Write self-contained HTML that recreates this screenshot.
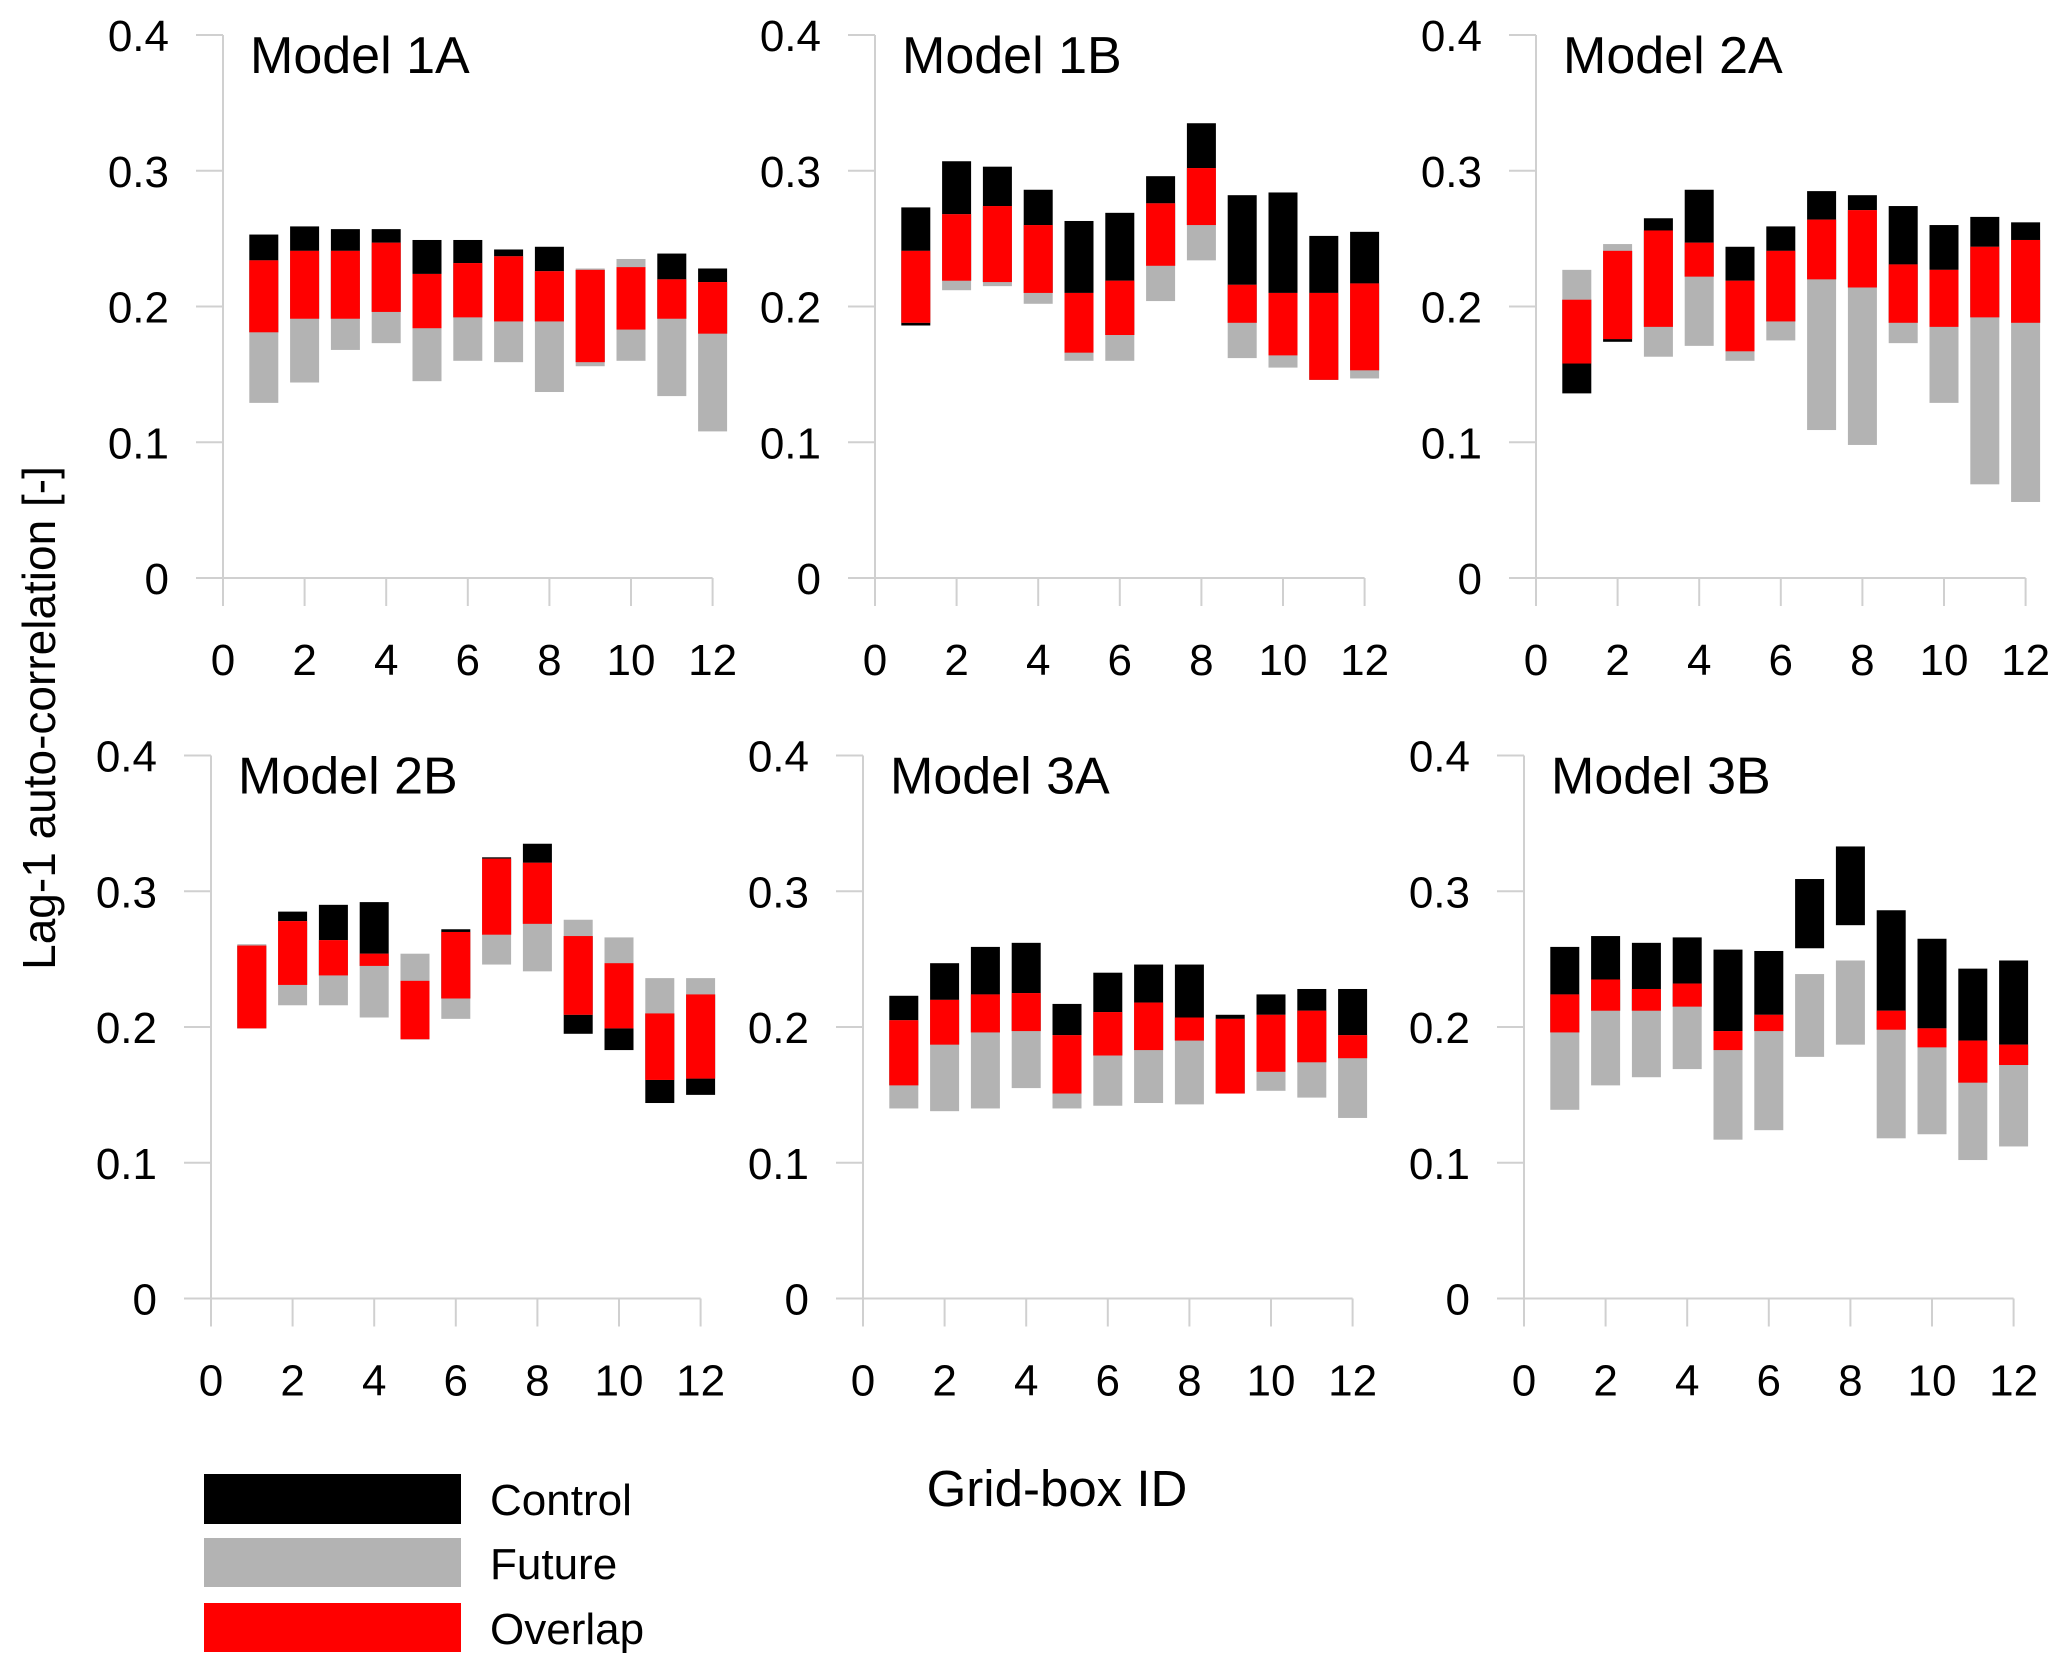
<!DOCTYPE html>
<html><head><meta charset="utf-8"><style>
html,body{margin:0;padding:0;background:#fff;}
svg{display:block;font-family:"Liberation Sans",Arial,sans-serif;}
</style></head><body>
<svg id="chart" width="2067" height="1672" viewBox="0 0 2067 1672" xmlns="http://www.w3.org/2000/svg">
<text x="0" y="0" transform="translate(55,718) rotate(-90)" font-size="46" text-anchor="middle">Lag-1 auto-correlation [-]</text>
<text x="1057" y="1506" font-size="51" text-anchor="middle">Grid-box ID</text>
<g>
<rect x="204" y="1474" width="257" height="50" fill="#000"/>
<text x="490" y="1515" font-size="44">Control</text>
<rect x="204" y="1538" width="257" height="49" fill="#b3b3b3"/>
<text x="490" y="1579" font-size="44">Future</text>
<rect x="204" y="1603" width="257" height="49" fill="#ff0000"/>
<text x="490" y="1644" font-size="44">Overlap</text>
</g>
</svg>
<script>
const panelTitles = ["Model 1A","Model 1B","Model 2A","Model 2B","Model 3A","Model 3B"];
const gridIds = [1,2,3,4,5,6,7,8,9,10,11,12];
const yTicks = [0,0.1,0.2,0.3,0.4];
const yTickLabels = ["0","0.1","0.2","0.3","0.4"];
const xTicks = [0,2,4,6,8,10,12];
const xTickLabels = ["0","2","4","6","8","10","12"];
// control range [low, high]
const controlLo = [
 [.181,.191,.191,.196,.184,.192,.189,.189,.159,.183,.191,.180],
 [.186,.219,.218,.210,.166,.179,.230,.260,.188,.164,.146,.153],
 [.136,.174,.185,.222,.167,.189,.220,.214,.188,.185,.192,.188],
 [.199,.231,.238,.245,.191,.221,.268,.276,.195,.183,.144,.150],
 [.157,.187,.196,.197,.151,.179,.183,.190,.151,.167,.174,.177],
 [.196,.212,.212,.215,.183,.197,.258,.275,.198,.185,.159,.172]];
const controlHi = [
 [.253,.259,.257,.257,.249,.249,.242,.244,.227,.229,.239,.228],
 [.273,.307,.303,.286,.263,.269,.296,.335,.282,.284,.252,.255],
 [.205,.241,.265,.286,.244,.259,.285,.282,.274,.260,.266,.262],
 [.260,.285,.290,.292,.234,.272,.325,.335,.267,.247,.210,.224],
 [.223,.247,.259,.262,.217,.240,.246,.246,.209,.224,.228,.228],
 [.259,.267,.262,.266,.257,.256,.309,.333,.286,.265,.243,.249]];
// future range [low, high]
const futureLo = [
 [.129,.144,.168,.173,.145,.160,.159,.137,.156,.160,.134,.108],
 [.188,.212,.215,.202,.160,.160,.204,.234,.162,.155,.146,.147],
 [.158,.176,.163,.171,.160,.175,.109,.098,.173,.129,.069,.056],
 [.199,.216,.216,.207,.191,.206,.246,.241,.209,.199,.161,.162],
 [.140,.138,.140,.155,.140,.142,.144,.143,.151,.153,.148,.133],
 [.139,.157,.163,.169,.117,.124,.178,.187,.118,.121,.102,.112]];
const futureHi = [
 [.234,.241,.241,.247,.224,.232,.237,.226,.228,.235,.220,.218],
 [.241,.268,.274,.260,.210,.219,.276,.302,.216,.210,.210,.217],
 [.227,.246,.256,.247,.219,.241,.264,.271,.231,.227,.244,.249],
 [.261,.278,.264,.254,.254,.270,.324,.321,.279,.266,.236,.236],
 [.205,.220,.224,.225,.194,.211,.218,.207,.206,.209,.212,.194],
 [.224,.235,.228,.232,.197,.209,.239,.249,.212,.199,.190,.187]];

const NS="http://www.w3.org/2000/svg";
const svg=document.getElementById('chart');
const layout=[{ax:223,y0:578},{ax:875,y0:578},{ax:1536,y0:578},{ax:211,y0:1298.5},{ax:863,y0:1298.5},{ax:1524,y0:1298.5}];
const UNIT=40.8, SPAN=543, BW=29;
function mk(tag,attrs,parent){const e=document.createElementNS(NS,tag);for(const k in attrs)e.setAttribute(k,attrs[k]);parent.appendChild(e);return e;}
layout.forEach((L,p)=>{
  const xs=v=>L.ax+v*UNIT;
  const ys=v=>L.y0-v/0.4*SPAN;
  const g=mk('g',{},svg);
  
  
  const gc='#d0d0d0';
  const yl=mk('line',{x1:L.ax,y1:ys(0.4),x2:L.ax,y2:L.y0+28,stroke:gc,'stroke-width':2},g);
  
  
  const xl=mk('line',{x1:L.ax-27,y1:L.y0,x2:xs(12),y2:L.y0,stroke:gc,'stroke-width':2},g);
  
  
  yTicks.forEach((t,i)=>{
    if(t>0){const tk=mk('line',{x1:L.ax-27,y1:ys(t),x2:L.ax,y2:ys(t),stroke:gc,'stroke-width':2},g);
    
    }
    const tx=mk('text',{x:L.ax-54,y:ys(t)+16,'font-size':44,'text-anchor':'end'},g);
    tx.textContent=yTickLabels[i];
    
    
  });
  xTicks.forEach((t,i)=>{
    if(t>0){const tk=mk('line',{x1:xs(t),y1:L.y0,x2:xs(t),y2:L.y0+28,stroke:gc,'stroke-width':2},g);
    
    }
    const tx=mk('text',{x:xs(t),y:L.y0+97,'font-size':44,'text-anchor':'middle'},g);
    tx.textContent=xTickLabels[i];
    
    
  });
  const tt=mk('text',{x:L.ax+27,y:L.y0-505,'font-size':52},g);
  tt.textContent=panelTitles[p];
  
  
  gridIds.forEach((id,i)=>{
    const x=xs(id)-BW/2;
    const cl=controlLo[p][i],ch=controlHi[p][i],fl=futureLo[p][i],fh=futureHi[p][i];
    const c=mk('rect',{x:x,y:ys(ch),width:BW,height:ys(cl)-ys(ch),fill:'#000'},g);
    
    
    const f=mk('rect',{x:x,y:ys(fh),width:BW,height:ys(fl)-ys(fh),fill:'#b3b3b3'},g);
    
    
    const ol=Math.max(cl,fl),oh=Math.min(ch,fh);
    if(oh>ol){
      const o=mk('rect',{x:x,y:ys(oh),width:BW,height:ys(ol)-ys(oh),fill:'#ff0000'},g);
      
      
    }
  });
});
</script>
</body></html>
